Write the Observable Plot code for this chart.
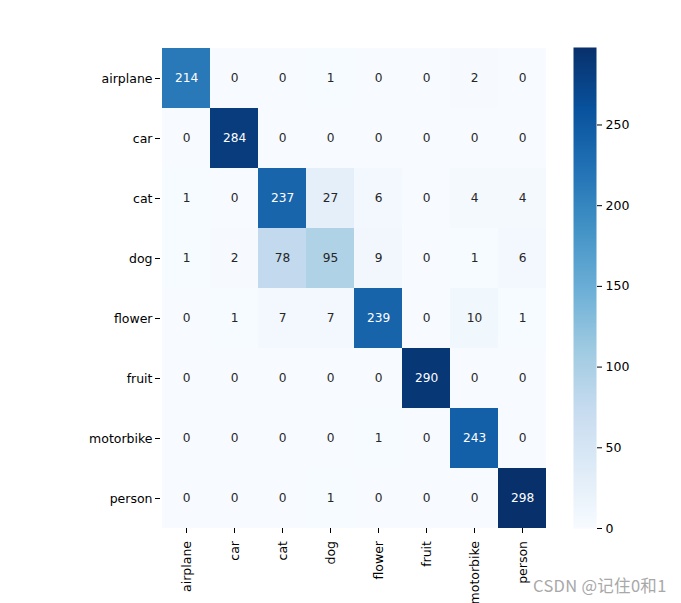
<!DOCTYPE html>
<html><head><meta charset="utf-8">
<script src="https://cdn.jsdelivr.net/npm/d3@7"></script>
<script src="https://cdn.jsdelivr.net/npm/@observablehq/plot@0.6"></script>
<style>
body{margin:0;background:#fff}
#wrap{position:relative;width:681px;height:603px;overflow:hidden;font-family:"DejaVu Sans"}
#wrap > svg{position:absolute;top:0}
#wm{position:absolute;left:533px;top:574px;font-family:"Noto Sans CJK SC","DejaVu Sans";font-size:16.5px;line-height:22px;color:#a8a8a8;white-space:nowrap;letter-spacing:0.3px}
</style>
</head><body><div id="wrap"><div id="wm">CSDN @记住0和1</div></div>
<script>
const categories = ["airplane","car","cat","dog","flower","fruit","motorbike","person"];
const row_airplane  = [214,0,0,1,0,0,2,0];
const row_car       = [0,284,0,0,0,0,0,0];
const row_cat       = [1,0,237,27,6,0,4,4];
const row_dog       = [1,2,78,95,9,0,1,6];
const row_flower    = [0,1,7,7,239,0,10,1];
const row_fruit     = [0,0,0,0,0,290,0,0];
const row_motorbike = [0,0,0,0,1,0,243,0];
const row_person    = [0,0,0,1,0,0,0,298];
const colorbarTicks = [0,50,100,150,200,250];
const vmin = 0, vmax = 298;
const bluesColors = ["#f7fbff","#deebf7","#c6dbef","#9ecae1","#6baed6","#4292c6","#2171b5","#08519c","#08306b"];

const rows = [row_airplane,row_car,row_cat,row_dog,row_flower,row_fruit,row_motorbike,row_person];
const cells = rows.flatMap((r,i)=>r.map((v,j)=>({actual:categories[i],pred:categories[j],v})));

const colorScale = {
  type:"linear",
  domain: bluesColors.map((_,i)=>vmin + (vmax-vmin)*i/(bluesColors.length-1)),
  range: bluesColors,
  interpolate: "rgb"
};
const style = {fontFamily:"DejaVu Sans", fontSize:"12.5px", color:"black", background:"transparent", overflow:"visible"};

const main = Plot.plot({
  width:681, height:603,
  marginLeft:160, marginRight:133, marginTop:47, marginBottom:75,
  style,
  x:{domain:categories, padding:0, label:null},
  y:{domain:categories, padding:0, label:null},
  color: colorScale,
  marks:[
    Plot.cell(cells,{x:"pred", y:"actual", fill:"v", inset:0}),
    Plot.text(cells.filter(d=>d.v>150),{x:"pred", y:"actual", text:d=>String(d.v), fill:"white", fontSize:12.2}),
    Plot.text(cells.filter(d=>d.v<=150),{x:"pred", y:"actual", text:d=>String(d.v), fill:"#262626", fontSize:12.2}),
    Plot.axisX({tickRotate:-90, tickSize:5, tickPadding:7.5, label:null}),
    Plot.axisY({tickSize:5, tickPadding:3, label:null})
  ]
});
main.style.left = "0px";
document.getElementById("wrap").appendChild(main);

const bar = Plot.plot({
  width:100, height:603,
  marginLeft:0, marginRight:77, marginTop:47, marginBottom:75,
  style,
  x:{domain:[0,1], axis:null},
  y:{domain:[vmin,vmax], label:null},
  color: colorScale,
  marks:[
    Plot.raster({x1:0, x2:1, y1:vmin, y2:vmax, width:1, height:600, fill:(x,y)=>y, imageRendering:"auto"}),
    Plot.axisY({anchor:"right", ticks:colorbarTicks, tickSize:5, tickPadding:4, label:null})
  ]
});
bar.style.left = "573px";
document.getElementById("wrap").appendChild(bar);
document.getElementById("wrap").appendChild(document.getElementById("wm"));
</script>
</body></html>
